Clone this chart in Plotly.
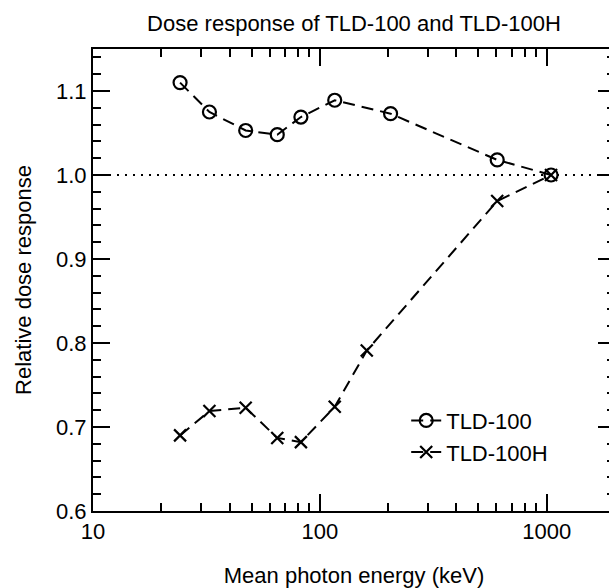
import math
import plotly.graph_objects as go

# ---- data ----
energy_tld100 = [24.2, 32.6, 47.1, 64.9, 82.5, 116.3, 205, 605, 1045]
resp_tld100 = [1.110, 1.075, 1.053, 1.048, 1.069, 1.089, 1.073, 1.018, 1.000]

energy_tld100h = [24.2, 32.6, 47.1, 64.9, 82.5, 116.3, 161, 605, 1045]
resp_tld100h = [0.690, 0.719, 0.723, 0.687, 0.682, 0.724, 0.791, 0.969, 1.000]

x_tickvals = [10, 100, 1000]
x_ticktext = ["10", "100", "1000"]
x_minor = [20, 30, 40, 50, 60, 70, 80, 90, 200, 300, 400, 500, 600, 700, 800, 900, 2000]
x_range_keV = [10, 2000]
y_range = [0.6, 1.15]
reference_level = 1.0

title_text = "Dose response of TLD-100 and TLD-100H"
x_title = "Mean photon energy (keV)"
y_title = "Relative dose response"
names = ["TLD-100", "TLD-100H"]

FONT = "Liberation Sans, Arial, sans-serif"
W, H = 623, 588

fig = go.Figure()
fig.add_trace(go.Scatter(
    x=energy_tld100, y=resp_tld100, name=names[0], mode="lines+markers",
    line=dict(color="black", width=2, dash="12px,7px"),
    marker=dict(symbol="circle-open", size=13, color="black", line=dict(width=2.2, color="black")),
))
fig.add_trace(go.Scatter(
    x=energy_tld100h, y=resp_tld100h, name=names[1], mode="lines+markers",
    line=dict(color="black", width=2, dash="12px,7px"),
    marker=dict(symbol="x-thin-open", size=12, color="black", line=dict(width=2.2, color="black")),
))

fig.add_shape(type="line", xref="paper", x0=0, x1=1, yref="y", y0=reference_level, y1=reference_level,
              line=dict(color="black", width=2.2, dash="2px,6px"), layer="below")

fig.update_layout(
    width=W, height=H,
    margin=dict(l=93, r=W - 615, t=49, b=77, pad=0, autoexpand=False),
    paper_bgcolor="white", plot_bgcolor="white",
    font=dict(family=FONT, size=22, color="black"),
    title=dict(text=title_text, x=354 / W, xref="container", xanchor="center",
               y=1 - 23 / H, yref="container", yanchor="middle",
               font=dict(family=FONT, size=22, color="black")),
    showlegend=True,
    legend=dict(x=0.60, y=0.241, xanchor="left", yanchor="top", bgcolor="rgba(0,0,0,0)",
                font=dict(family=FONT, size=22, color="black"), itemwidth=30, tracegroupgap=0),
    xaxis=dict(
        type="log", range=[math.log10(x_range_keV[0]), math.log10(x_range_keV[1])],
        tickmode="array", tickvals=x_tickvals, ticktext=x_ticktext,
        ticks="inside", ticklen=17, tickwidth=2, tickcolor="black",
        minor=dict(tickmode="array", tickvals=x_minor, ticks="inside", ticklen=8, tickwidth=2, tickcolor="black", showgrid=False),
        showline=True, linewidth=2, linecolor="black", mirror="ticks",
        showgrid=False, zeroline=False, automargin=False,
        tickfont=dict(family=FONT, size=22, color="black"),
        title=dict(text=x_title, standoff=35, font=dict(family=FONT, size=22, color="black")),
    ),
    yaxis=dict(
        range=y_range, tick0=0.6, dtick=0.1, tickformat=".1f",
        ticks="inside", ticklen=17, tickwidth=2, tickcolor="black",
        minor=dict(dtick=0.02, ticks="inside", ticklen=8, tickwidth=2, tickcolor="black", showgrid=False),
        showline=True, linewidth=2, linecolor="black", mirror="ticks",
        showgrid=False, zeroline=False, automargin=False,
        tickfont=dict(family=FONT, size=22, color="black"),
        title=dict(text=y_title, standoff=18, font=dict(family=FONT, size=22, color="black")),
    ),
)

fig.write_html("out.html", config={"displayModeBar": False},
               post_script="document.body.style.overflow='hidden';document.documentElement.style.overflow='hidden';document.body.style.margin='0';")
